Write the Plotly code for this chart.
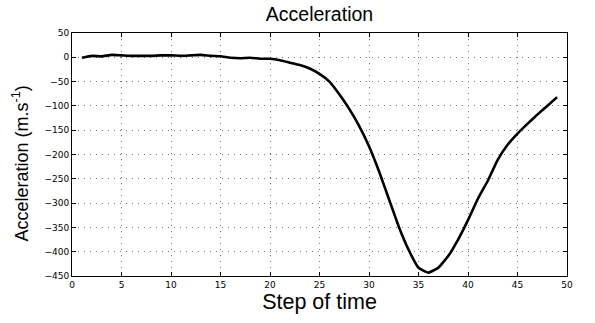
import plotly.graph_objects as go

steps = list(range(1, 50))
accel = [-1, 3, 2, 5, 4, 3, 3, 3, 4, 4,
         3, 4, 5, 3, 2, -1, -2, -1, -3, -3,
         -6, -11, -16, -23, -34, -50, -76, -106, -141, -183,
         -234, -291, -348, -396, -433, -443, -433, -409, -375, -335,
         -291, -254, -211, -180, -157, -137, -118, -100, -82]

x_ticks = list(range(0, 51, 5))
y_ticks = list(range(-450, 51, 50))

fig = go.Figure()
fig.add_trace(go.Scatter(x=steps, y=accel, mode="lines",
                         line=dict(color="black", width=2.6, shape="spline", smoothing=0.4),
                         showlegend=False))

axis_common = dict(
    showline=True, linecolor="black", linewidth=1, mirror="ticks",
    ticks="inside", ticklen=4, tickcolor="black",
    showgrid=True, gridcolor="#777777", griddash="1px,5px", gridwidth=1,
    zeroline=False, automargin=False,
    tickfont=dict(family="DejaVu Sans", size=9, color="black"),
)

L, R, T, B, W, H = 72, 28, 33, 47, 595, 323

fig.update_layout(
    width=W, height=H,
    margin=dict(l=L, r=R, t=T, b=B),
    paper_bgcolor="white", plot_bgcolor="white",
    title=dict(text="Acceleration", x=0.5, xanchor="center", y=1 - 14 / H, yanchor="middle",
               xref="paper",
               font=dict(family="Liberation Sans, Arial", size=19.5, color="black")),
    xaxis=dict(range=[0, 50], tickvals=x_ticks,
               title=dict(text="Step of time", standoff=4,
                          font=dict(family="Liberation Sans, Arial", size=21.5, color="black")),
               **axis_common),
    yaxis=dict(range=[-450, 50], tickvals=y_ticks, **axis_common),
)

fig.add_annotation(
    text="Acceleration (m.s<sup>-1</sup>)", textangle=-90,
    xref="paper", yref="paper", x=0, y=0.463, xanchor="center", yanchor="middle",
    xshift=-(L - 21), showarrow=False,
    font=dict(family="Liberation Sans, Arial", size=18, color="black"),
)

fig.write_html("out.html", config={"displayModeBar": False},
               post_script="document.body.style.margin='0';document.body.style.overflow='hidden';")
